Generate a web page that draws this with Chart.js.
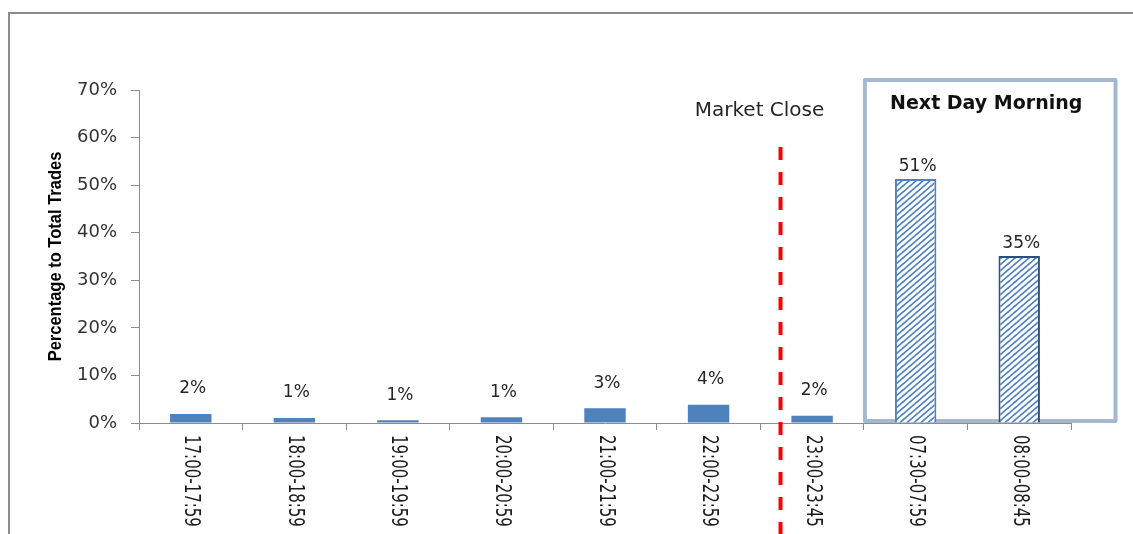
<!DOCTYPE html>
<html>
<head>
<meta charset="utf-8">
<script src="https://cdn.jsdelivr.net/npm/chart.js@4"></script>
<style>
  html, body { margin: 0; padding: 0; background: #fff; }
  #wrap { position: relative; width: 1133px; height: 534px; overflow: hidden; }
  #frame { position: absolute; left: 8px; top: 12px; width: 1200px; height: 600px;
           border-left: 2px solid #8c8c8c; border-top: 2px solid #8c8c8c; box-sizing: border-box; }
  canvas { position: absolute; left: 0; top: 0; }
</style>
</head>
<body>
<div id="wrap">
  <div id="frame"></div>
  <canvas id="c" width="1133" height="534"></canvas>
</div>
<script>
// ---- data ----
const categories = ['17:00-17:59', '18:00-18:59', '19:00-19:59', '20:00-20:59', '21:00-21:59',
                    '22:00-22:59', '23:00-23:45', '07:30-07:59', '08:00-08:45'];
const sharePct = [1.9, 1.05, 0.6, 1.2, 3.1, 3.85, 1.5, 51.3, 35.1];
const dataLabels = ['2%', '1%', '1%', '1%', '3%', '4%', '2%', '51%', '35%'];
const yTickValues = [0, 10, 20, 30, 40, 50, 60, 70];
const yTickLabels = ['0%', '10%', '20%', '30%', '40%', '50%', '60%', '70%'];
const yAxisTitle = 'Percentage to Total Trades';
const marketCloseText = 'Market Close';
const morningTitle = 'Next Day Morning';
const morningStartIndex = 7;

// ---- styles ----
const SOLID = '#4f81bd';
const FONT = '"DejaVu Sans", Verdana, sans-serif';

const canvas = document.getElementById('c');
const mainCtx = canvas.getContext('2d');

function makeHatch(color) {
  const w = 7, h = 6;
  const c = document.createElement('canvas');
  c.width = w; c.height = h;
  const x = c.getContext('2d');
  x.fillStyle = '#fff';
  x.fillRect(0, 0, w, h);
  x.strokeStyle = color;
  x.lineWidth = 1.7;
  x.beginPath();
  for (const dx of [-w, 0, w]) {
    for (const dy of [-h, 0, h]) {
      x.moveTo(dx, h + dy); x.lineTo(w + dx, dy);
    }
  }
  x.stroke();
  return mainCtx.createPattern(c, 'repeat');
}
const hatch = makeHatch('#4f81bd');
const hatchBorders = ['#4f81bd', '#2a4f80'];

const overlay = {
  id: 'overlay',
  beforeDatasetsDraw(chart) {
    const ctx = chart.ctx;
    const xs = chart.scales.x, ys = chart.scales.y;
    const cw = xs.getPixelForValue(1) - xs.getPixelForValue(0);
    // Next Day Morning box
    const left = xs.getPixelForValue(morningStartIndex - 0.5) + 1;
    const right = xs.getPixelForValue(categories.length - 1) + cw * 0.93;
    const top = 80;
    const bottom = ys.getPixelForValue(0) - 2;
    ctx.save();
    ctx.strokeStyle = '#a6b8d0';
    ctx.lineWidth = 4;
    ctx.lineJoin = 'round';
    ctx.strokeRect(left, top, right - left, bottom - top);
    ctx.fillStyle = '#111';
    ctx.font = 'bold 19px ' + FONT;
    ctx.textAlign = 'center';
    ctx.textBaseline = 'middle';
    ctx.fillText(morningTitle, (left + right) / 2 - 4, 104);
    ctx.restore();
  },
  afterDatasetsDraw(chart) {
    const ctx = chart.ctx;
    const xs = chart.scales.x, ys = chart.scales.y;
    const cw = xs.getPixelForValue(1) - xs.getPixelForValue(0);
    const meta = chart.getDatasetMeta(0);
    ctx.save();
    // data labels
    ctx.fillStyle = '#262626';
    ctx.font = '17px ' + FONT;
    ctx.textAlign = 'center';
    ctx.textBaseline = 'middle';
    meta.data.forEach((bar, i) => {
      const off = i >= morningStartIndex ? 12 : 25;
      ctx.fillText(dataLabels[i], bar.x + 2, bar.y - off);
    });
    // market close dashed line
    const mx = xs.getPixelForValue(morningStartIndex - 1) - cw * 0.305;
    ctx.strokeStyle = '#ff0000';
    ctx.lineWidth = 4;
    ctx.setLineDash([13, 12]);
    ctx.beginPath();
    ctx.moveTo(mx, 147);
    ctx.lineTo(mx, chart.height);
    ctx.stroke();
    ctx.setLineDash([]);
    ctx.fillStyle = '#262626';
    ctx.font = '20px ' + FONT;
    ctx.fillText(marketCloseText, mx - 21, 111);
    // rotated category labels (reading top to bottom)
    ctx.fillStyle = '#1a1a1a';
    ctx.font = '15px ' + FONT;
    ctx.textAlign = 'left';
    const y0 = ys.getPixelForValue(0) + 12;
    categories.forEach((lab, i) => {
      const cx = xs.getPixelForValue(i);
      ctx.save();
      ctx.translate(cx, y0);
      ctx.rotate(Math.PI / 2);
      ctx.scale(1, 1.4);
      ctx.fillText(lab, 0, 0);
      ctx.restore();
    });
    // y axis title
    ctx.save();
    ctx.fillStyle = '#000';
    ctx.font = 'bold 16.5px "Liberation Sans", Arial, sans-serif';
    ctx.textAlign = 'center';
    ctx.textBaseline = 'middle';
    ctx.translate(56, (ys.top + ys.bottom) / 2);
    ctx.rotate(-Math.PI / 2);
    ctx.scale(1, 1.1);
    ctx.fillText(yAxisTitle, 0, 0);
    ctx.restore();
    ctx.restore();
  }
};

new Chart(canvas, {
  type: 'bar',
  data: {
    labels: categories,
    datasets: [{
      data: sharePct,
      backgroundColor: c => c.dataIndex >= morningStartIndex ? hatch : SOLID,
      borderColor: c => c.dataIndex >= morningStartIndex ? hatchBorders[c.dataIndex - morningStartIndex] : SOLID,
      borderWidth: c => c.dataIndex >= morningStartIndex ? 2 : 0,
      barPercentage: 0.4,
      categoryPercentage: 1.0
    }]
  },
  options: {
    responsive: false,
    animation: false,
    devicePixelRatio: 1,
    layout: { padding: { left: 0, right: 62, top: 90, bottom: 0 } },
    plugins: { legend: { display: false }, tooltip: { enabled: false }, title: { display: false } },
    scales: {
      x: {
        grid: { display: true, drawOnChartArea: false, drawTicks: true, tickLength: 7, color: '#8c8c8c', offset: true },
        border: { display: true, color: '#8c8c8c', width: 1 },
        ticks: { display: false },
        afterFit: s => { s.height = 111; }
      },
      y: {
        min: 0, max: 70,
        afterBuildTicks: s => { s.ticks = yTickValues.map(v => ({ value: v })); },
        ticks: {
          callback: (v) => yTickLabels[yTickValues.indexOf(v)],
          font: { family: 'DejaVu Sans', size: 18 },
          color: '#333',
          padding: 14
        },
        grid: { display: true, drawOnChartArea: false, drawTicks: true, tickLength: 8, color: '#8c8c8c' },
        border: { display: true, color: '#8c8c8c', width: 1 },
        afterFit: s => { s.width = 139; }
      }
    }
  },
  plugins: [overlay]
});
</script>
</body>
</html>
